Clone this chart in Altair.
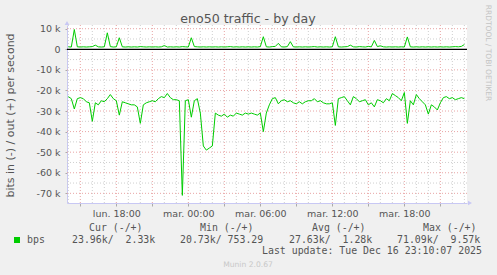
import altair as alt
import pandas as pd

# ---- data (in bits per second) ----
start_hour = 14.0          # lun. 14:00, hours counted from Monday 00:00
step_hours = 0.25          # one sample every 15 minutes

in_k = [-23, -24, -29, -24, -23.5, -24, -25.5, -26, -35, -26,
        -27, -25, -25.5, -24, -22, -24, -25, -32, -25.5, -26,
        -26.5, -27, -27, -28, -36, -27, -26, -25.5, -25, -25.5,
        -24, -23, -23.5, -21.5, -23.5, -24.5, -24.5, -25, -71, -25,
        -24.5, -33, -25, -24, -31, -47, -49, -48, -47, -31,
        -32, -32.5, -31.5, -33, -32, -32.5, -31, -31.5, -32, -31,
        -31.5, -31, -31.5, -32, -31, -40, -31, -27, -24, -23.5,
        -26.5, -25, -24.5, -25.5, -25, -26, -26.5, -25.5, -26.5, -25.5,
        -25, -25, -24, -25.5, -25, -26, -26.5, -26.5, -26, -37,
        -24, -23.5, -23, -25, -27, -23, -24, -25.5, -25, -24.5,
        -27, -26, -28, -24.5, -25, -26, -24, -25, -21.5, -22.5,
        -23.5, -25, -21, -36, -25, -27, -22, -24, -25.5, -27,
        -31.5, -27, -28, -29.5, -26, -23.5, -23, -24, -23.5, -24.5,
        -24, -23.5, -24]

out_k = [1.2, 1.1, 9.6, 1.2, 1.1, 1.2, 1.1, 1.2, 1.3, 2.0,
         1.2, 1.1, 1.2, 8.0, 1.3, 1.1, 1.2, 5.6, 1.2, 1.1,
         1.2, 1.1, 1.2, 1.1, 1.3, 1.2, 1.1, 1.2, 1.1, 1.2,
         1.1, 1.2, 1.8, 1.1, 1.2, 1.1, 1.2, 1.1, 1.3, 1.2,
         1.1, 5.6, 1.3, 1.2, 1.1, 1.2, 1.1, 1.2, 1.1, 1.2,
         1.1, 1.2, 1.1, 1.2, 1.3, 1.1, 1.2, 1.1, 1.2, 1.1,
         1.2, 1.1, 1.2, 1.1, 1.3, 6.1, 1.2, 1.1, 1.3, 1.4,
         2.9, 1.2, 1.1, 1.3, 3.7, 1.2, 1.1, 1.2, 1.1, 1.2,
         1.1, 1.2, 1.3, 1.1, 1.2, 1.1, 1.2, 1.1, 1.2, 6.1,
         1.2, 1.1, 1.2, 1.3, 2.0, 1.2, 1.1, 1.3, 1.2, 1.1,
         1.4, 1.2, 4.3, 1.3, 1.7, 1.2, 1.1, 1.2, 1.1, 1.2,
         1.1, 1.2, 1.1, 6.0, 1.2, 1.1, 1.2, 1.1, 1.2, 1.1,
         1.2, 1.1, 1.2, 1.1, 1.2, 1.1, 1.2, 1.1, 1.2, 1.3,
         1.2, 1.4, 2.3]

x_label_hours = [18, 24, 30, 36, 42]
x_labels = ["lun. 18:00", "mar. 00:00", "mar. 06:00", "mar. 12:00", "mar. 18:00"]
x_major_hours = [15, 18, 21, 24, 27, 30, 33, 36, 39, 42, 45]
x_minor_hours = [14, 16, 17, 19, 20, 22, 23, 25, 26, 28, 29, 31, 32, 34, 35,
                 37, 38, 40, 41, 43, 44, 46, 47]
y_major = [-70000, -60000, -50000, -40000, -30000, -20000, -10000, 10000]
y_minor = [-65000, -55000, -45000, -35000, -25000, -15000, -5000, 5000]
y_ticks = [-70000, -60000, -50000, -40000, -30000, -20000, -10000, 0, 10000]

legend_header = ["Cur (-/+)", "Min (-/+)", "Avg (-/+)", "Max (-/+)"]
legend_values = ["23.96k/  2.33k", "20.73k/ 753.29", "27.63k/  1.28k", "71.09k/  9.57k"]
series_name = "bps"
last_update = "Last update: Tue Dec 16 23:10:07 2025"
title_text = "eno50 traffic - by day"
y_title = "bits in (-) / out (+) per second"
side_text = "RRDTOOL / TOBI OETIKER"
footer = "Munin 2.0.67"

# ---- layout ----
PL, PT = 67, 25          # plot origin in page pixels
W, H = 400, 178
GREEN = "#00cc00"
TXT = "#555555"
AXIS_BLUE = "#c8c8f4"

n = len(in_k)
hours = [start_hour + step_hours * i for i in range(n)]
df = pd.DataFrame({"hour": hours,
                   "inv": [v * 1000 for v in in_k],
                   "outv": [v * 1000 for v in out_k]})

xscale = alt.Scale(domain=[13.89, 47.22], nice=False, zero=False)
yscale = alt.Scale(domain=[-74700, 11800], nice=False, zero=False)

label_expr = ("indexof(%s, datum.value) >= 0 ? %s[indexof(%s, datum.value)] : ''"
              % (x_label_hours, [str(s) for s in x_labels], x_label_hours))
xaxis = alt.Axis(values=x_major_hours, labelExpr=label_expr, title=None, grid=False,
                 labelFont="DejaVu Sans", labelFontSize=9.5, labelColor=TXT,
                 tickColor="#aaaaaa", tickSize=3, labelPadding=2,
                 domainColor=AXIS_BLUE, domainWidth=1, labelOverlap=False,
                 labelFlush=False)
yaxis = alt.Axis(values=y_ticks,
                 labelExpr="datum.value == 0 ? '0' : (datum.value / 1000) + ' k'",
                 title=y_title, titleFont="DejaVu Sans", titleFontSize=11,
                 titleFontWeight="normal", titleColor=TXT,
                 titleX=10 - PL, titleY=115 - PT, titleAngle=270,
                 titleAlign="center", titleBaseline="middle",
                 grid=False, labelFont="DejaVu Sans", labelFontSize=9.5,
                 labelColor=TXT, tickColor="#aaaaaa", tickSize=2, labelPadding=5,
                 domainColor=AXIS_BLUE, domainWidth=1)


def X(field):
    return alt.X(field, type="quantitative", scale=xscale, axis=xaxis)


def Y(field):
    return alt.Y(field, type="quantitative", scale=yscale, axis=yaxis)


def grid_h(vals, color):
    return alt.Chart(pd.DataFrame({"v": vals})).mark_rule(
        color=color, strokeDash=[1, 2], strokeWidth=1).encode(y=Y("v"))


def grid_v(vals, color):
    return alt.Chart(pd.DataFrame({"h": vals})).mark_rule(
        color=color, strokeDash=[1, 2], strokeWidth=1).encode(x=X("h"))


layers = [
    grid_h(y_minor, "#cfcfcf"),
    grid_v(x_minor_hours, "#cfcfcf"),
    grid_h(y_major, "#e8a4a4"),
    grid_v(x_major_hours, "#e8a4a4"),
    alt.Chart(pd.DataFrame({"v": [0]})).mark_rule(color="#000000", strokeWidth=1.2).encode(y=Y("v")),
    alt.Chart(df).mark_line(color=GREEN, strokeWidth=1).encode(x=X("hour"), y=Y("inv")),
    alt.Chart(df).mark_line(color=GREEN, strokeWidth=1).encode(x=X("hour"), y=Y("outv")),
]

one = pd.DataFrame({"k": [0]})


def txt(s, x, y, size=9.9, font="DejaVu Sans Mono", color=TXT, align="left",
        baseline="alphabetic", angle=0):
    return alt.Chart(one).mark_text(
        text=s.replace(" ", "\u00a0"), font=font, fontSize=size, color=color,
        align=align, baseline=baseline, angle=angle).encode(
        x=alt.value(x - PL), y=alt.value(y - PT))


# axis arrows
layers.append(alt.Chart(one).mark_point(shape="triangle-up", filled=True, color=AXIS_BLUE,
                                        size=22, opacity=1).encode(
    x=alt.value(0), y=alt.value(-2)))
layers.append(alt.Chart(one).mark_point(shape="triangle-right", filled=True, color=AXIS_BLUE,
                                        size=22, opacity=1).encode(
    x=alt.value(W + 3), y=alt.value(H)))

# title and side texts
layers.append(txt(title_text, 248, 23, size=12.6, font="DejaVu Sans", align="center"))
layers.append(txt(side_text, 488, 53, size=7.5, font="DejaVu Sans", color="#c4c4c4",
                  align="center", baseline="middle", angle=90))

# legend
header_x = [89, 200, 312, 423]
value_x = [72, 180, 289, 397]
for s, x in zip(legend_header, header_x):
    layers.append(txt(s, x, 231))
for s, x in zip(legend_values, value_x):
    layers.append(txt(s, x, 243))
layers.append(txt(series_name, 27, 243))
layers.append(alt.Chart(one).mark_rect(color=GREEN).encode(
    x=alt.value(14 - PL), x2=alt.value(20 - PL), y=alt.value(237 - PT), y2=alt.value(243 - PT)))
layers.append(txt(last_update, 262, 254))
layers.append(txt(footer, 248, 267, size=7.6, font="DejaVu Sans", color="#c8c8c8",
                  align="center"))

chart = alt.layer(*layers).properties(
    width=W, height=H,
    autosize=alt.AutoSizeParams(type="none"),
    padding={"left": PL, "top": PT, "right": 497 - PL - W, "bottom": 275 - PT - H},
    background="#f0f0f0",
).configure_view(fill="white", stroke=None)

chart.save("out.html", embed_options={"renderer": "svg", "actions": False})
